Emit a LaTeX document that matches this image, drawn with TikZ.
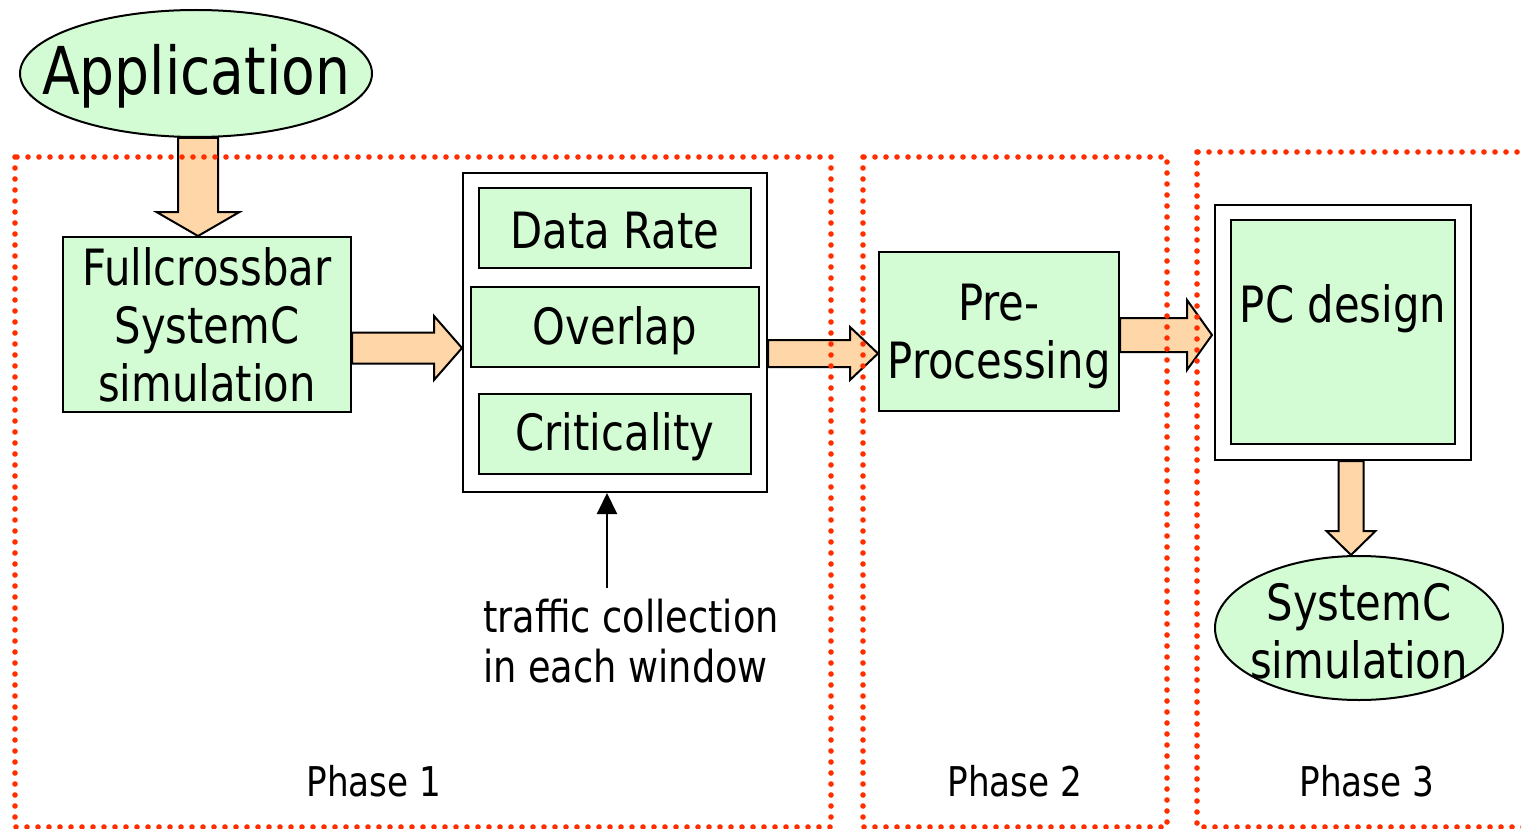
\documentclass[tikz,border=0pt]{standalone}
\usepackage{fontspec}
\setmainfont{DejaVu Sans}[FakeStretch=0.835]
\usetikzlibrary{shapes.geometric,calc,arrows.meta}
\definecolor{boxgreen}{RGB}{212,252,212}
\definecolor{arrowfill}{RGB}{255,214,168}
\definecolor{phasered}{RGB}{255,45,0}
% horizontal block arrow: start, tip, shaft half-width, head half-width, head length
\newcommand{\hblock}[5]{%
  \draw[blk] let \p1=(#1), \p2=(#2) in
    (\x1,\y1+#3) -- (\x2-#5,\y1+#3) -- (\x2-#5,\y1+#4) -- (\x2,\y1)
    -- (\x2-#5,\y1-#4) -- (\x2-#5,\y1-#3) -- (\x1,\y1-#3) -- cycle;}
% downward block arrow: start, tip, shaft half-width, head half-width, head length
\newcommand{\vblock}[5]{%
  \draw[blk] let \p1=(#1), \p2=(#2) in
    (\x1-#3,\y1) -- (\x1-#3,\y2+#5) -- (\x1-#4,\y2+#5) -- (\x1,\y2)
    -- (\x1+#4,\y2+#5) -- (\x1+#3,\y2+#5) -- (\x1+#3,\y1) -- cycle;}
\begin{document}
\begin{tikzpicture}[x=0.5pt,y=-0.5pt,
  box/.style={draw=black,line width=1pt,fill=boxgreen,inner sep=0pt,align=center},
  frame/.style={draw=black,line width=1pt,fill=white,inner sep=0pt},
  oval/.style={ellipse,draw=black,line width=1pt,fill=boxgreen,inner sep=0pt},
  big/.style={font=\fontsize{25pt}{29pt}\selectfont,align=center},
  phasebox/.style={draw=phasered,line width=2.8pt,line cap=round,dash pattern=on 0pt off 5.5pt},
  blk/.style={draw=black,line width=1pt,fill=arrowfill,line join=miter},
  phasetext/.style={font=\fontsize{20.5pt}{24pt}\selectfont}
]
\clip (0,0) rectangle (1521,829);

% application source
\node[oval,minimum width=176pt,minimum height=63.5pt] (app) at (196,73.5) {};
\node[font=\fontsize{33pt}{39pt}\selectfont] (apptext) at (196,76) {Application};

% phase 1 blocks
\node[box,big,minimum width=144pt,minimum height=87.5pt] (fc) at (207,324.5)
  {Fullcrossbar\\SystemC\\simulation};
\node[frame,minimum width=152pt,minimum height=159.5pt] (cont) at (615,332.5) {};
\node[box,minimum width=136pt,minimum height=40pt] (dr) at (615,228) {};
\node[box,minimum width=144pt,minimum height=40pt] (ov) at (615,327) {};
\node[box,minimum width=136pt,minimum height=40pt] (cr) at (615,434) {};
\node[big] (drtext) at (615,231) {Data Rate};
\node[big] (ovtext) at (615,331) {Overlap};
\node[big] (crtext) at (615,437) {Criticality};

% traffic note and its pointer
\node[anchor=west,align=left,font=\fontsize{22pt}{25pt}\selectfont] (note) at (476,641)
  {traffic collection\\in each window};
\coordinate (ntop) at (607,588);
\draw[line width=1pt,-{Triangle[length=10.5pt,width=10pt]}] (ntop) -- (ntop |- cont.south);

% phase 2 block
\node[box,minimum width=120pt,minimum height=79.5pt] (pre) at (999,331.5) {};
\node[big] (pretext) at (999,336) {Pre-\\Processing};

% phase 3 blocks
\node[frame,minimum width=128pt,minimum height=127.5pt] (pcout) at (1343,332.5) {};
\node[box,minimum width=112pt,minimum height=112pt] (pcin) at (1343,332) {};
\node[big] (pctext) at (1343,309) {PC design};
\node[oval,minimum width=144pt,minimum height=72pt] (sim) at (1359,628) {};
\node[big] (simtext) at (1359,631) {SystemC\\simulation};

% block arrows
\coordinate (a0s) at ($(app.south)+(2,0)$);
\coordinate (a0t) at (a0s |- fc.north);
\vblock{a0s}{a0t}{10pt}{20.75pt}{12pt}

\coordinate (a1s) at ($(fc.east)+(0,23.5)$);
\coordinate (a1t) at (a1s -| cont.west);
\hblock{a1s}{a1t}{7.75pt}{16pt}{14pt}

\coordinate (a2s) at ($(cont.east)+(0,21)$);
\coordinate (a2t) at (a2s -| pre.west);
\hblock{a2s}{a2t}{6.75pt}{13.25pt}{14pt}

\coordinate (a3s) at ($(pre.east)+(0,3.5)$);
\coordinate (a3t) at ($(a3s -| pcout.west)+(-2,0)$);
\hblock{a3s}{a3t}{8.5pt}{17.5pt}{12.5pt}

\coordinate (a4s) at ($(pcout.south)+(8,0)$);
\coordinate (a4t) at (a4s |- sim.north);
\vblock{a4s}{a4t}{6.25pt}{12.25pt}{12pt}

% phase frames
\draw[phasebox] (15,157) rectangle (831,827);
\draw[phasebox] (863,157) rectangle (1167,827);
\draw[phasebox] (1197,152) rectangle (1540,827);

\node[phasetext] (ph1) at (374,781) {Phase 1};
\node[phasetext] (ph2) at (1015,781) {Phase 2};
\node[phasetext] (ph3) at (1367,781) {Phase 3};
\end{tikzpicture}
\end{document}
